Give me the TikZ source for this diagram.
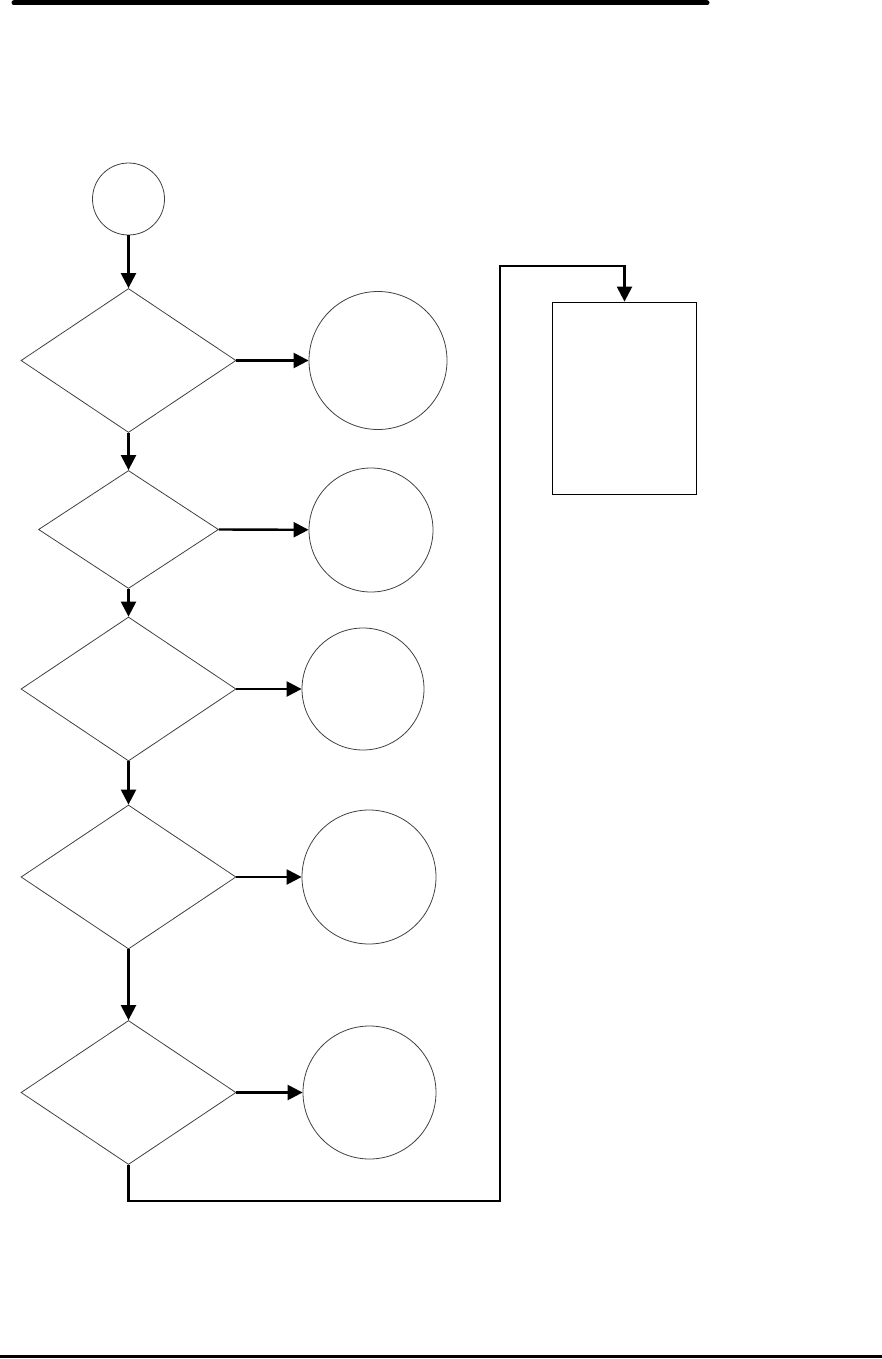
\documentclass[tikz,border=0pt]{standalone}
\usetikzlibrary{shapes.geometric,arrows.meta}
\begin{document}
\begin{tikzpicture}[x=1pt,y=-1pt,
  shapeline/.style={draw=black!75,line width=0.8pt,inner sep=0pt},
  dia/.style={shapeline,diamond,minimum width=215pt,minimum height=144pt},
  dia2/.style={shapeline,diamond,minimum width=180pt,minimum height=118pt},
  term/.style={shapeline,circle},
  boxnode/.style={draw=black,line width=1.4pt,inner sep=0pt,minimum width=144pt,minimum height=192pt},
  conn/.style={line width=2.4pt,-{Triangle[length=15pt,width=15pt]}},
  plainconn/.style={line width=2.4pt},
  rule/.style={line width=5pt,line cap=round}]
\useasboundingbox (0,0) rectangle (882,1359);
% header and footer rules
\coordinate (r1a) at (14,3);
\coordinate (r1b) at (707,3);
\coordinate (r2a) at (0,1356.5);
\coordinate (r2b) at (882,1356.5);
\draw[rule] (r1a) -- (r1b);
\draw[line width=3.5pt] (r2a) -- (r2b);
% nodes
\node[term,minimum size=72pt] (s) at (128.5,199) {};
\node[dia] (d1) at (128.5,360.5) {};
\node[term,minimum size=138pt] (c1) at (378,360.5) {};
\node[dia2] (d2) at (128.5,529.5) {};
\node[term,minimum size=124pt] (c2) at (371,530) {};
\node[dia] (d3) at (128.5,689) {};
\node[term,minimum size=122pt] (c3) at (363,689) {};
\node[dia] (d4) at (128.5,877) {};
\node[term,minimum size=134pt] (c4) at (369,877) {};
\node[dia] (d5) at (128.5,1092.5) {};
\node[term,minimum size=133pt] (c5) at (369.5,1092.5) {};
\node[boxnode] (box) at (624.5,398.3) {};
% connectors
\draw[conn] (s) -- (d1.north);
\draw[conn] (d1.east) -- (c1);
\draw[conn] (d1.south) -- (d2.north);
\draw[conn] (d2.east) -- (c2);
\draw[conn] (d2.south) -- (d3.north);
\draw[conn] (d3.east) -- (c3);
\draw[conn] (d3.south) -- (d4.north);
\draw[conn] (d4.east) -- (c4);
\draw[conn] (d4.south) -- (d5.north);
\draw[conn] (d5.east) -- (c5);
\coordinate (p1) at (500,1201);
\coordinate (p2) at (500,266);
\draw[conn] (d5.south) |- (p1) -- (p2) -| (box.north);
\end{tikzpicture}
\end{document}
